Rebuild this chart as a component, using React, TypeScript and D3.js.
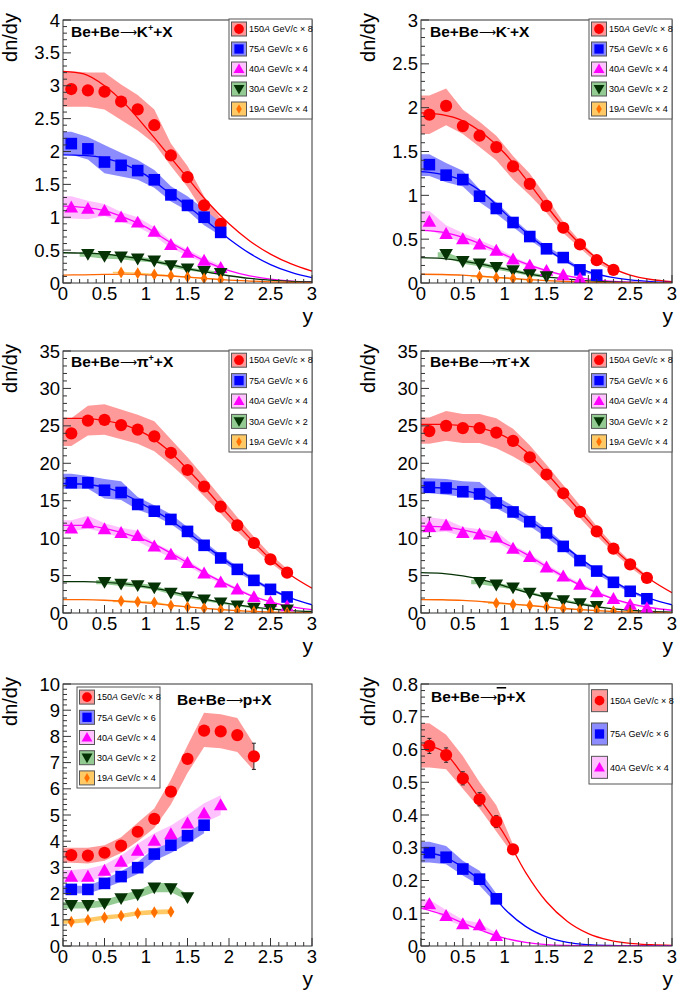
import React from 'react';
import * as d3 from 'd3';

// ---------- shared grids / labels ----------
const fitX = [0, 0.25, 0.5, 0.75, 1, 1.25, 1.5, 1.75, 2, 2.25, 2.5, 2.75, 3];
const energies = ['150', '75', '40', '30', '19'];
const factors = ['8', '6', '4', '2', '4'];

// ---------- Panel 1: K+ ----------
const kpRedX = [0.1, 0.3, 0.5, 0.7, 0.9, 1.1, 1.3, 1.5, 1.7, 1.9];
const kpRedY = [2.95, 2.93, 2.91, 2.76, 2.64, 2.4, 1.94, 1.61, 1.18, 0.9];
const kpRedLo = [2.68, 2.68, 2.64, 2.48, 2.32, 2.12, 1.78, 1.46, 1.06, 0.82];
const kpRedHi = [3.22, 3.2, 3.2, 3.02, 2.86, 2.64, 2.12, 1.78, 1.32, 0.98];
const kpRedFit = [3.22, 3.18, 3.0, 2.72, 2.36, 1.98, 1.6, 1.22, 0.9, 0.64, 0.44, 0.29, 0.18];
const kpBlueX = [0.1, 0.3, 0.5, 0.7, 0.9, 1.1, 1.3, 1.5, 1.7, 1.9];
const kpBlueY = [2.12, 2.04, 1.84, 1.79, 1.71, 1.57, 1.34, 1.18, 1.0, 0.77];
const kpBlueLo = [1.95, 1.88, 1.67, 1.62, 1.57, 1.45, 1.24, 1.1, 0.88, 0.72];
const kpBlueHi = [2.3, 2.22, 2.1, 1.98, 1.87, 1.72, 1.47, 1.32, 1.12, 0.92];
const kpBlueFit = [1.95, 1.94, 1.9, 1.8, 1.64, 1.4, 1.17, 0.92, 0.67, 0.45, 0.28, 0.16, 0.08];
const kpMagX = [0.1, 0.3, 0.5, 0.7, 0.9, 1.1, 1.3, 1.5, 1.7, 1.9];
const kpMagY = [1.15, 1.13, 1.1, 1.0, 0.92, 0.78, 0.58, 0.46, 0.34, 0.23];
const kpMagLo = [0.98, 0.97, 1.02, 0.93, 0.85, 0.72, 0.53, 0.42, 0.3, 0.2];
const kpMagHi = [1.32, 1.25, 1.2, 1.08, 1.0, 0.85, 0.64, 0.51, 0.38, 0.27];
const kpMagFit = [1.17, 1.15, 1.1, 0.99, 0.85, 0.65, 0.47, 0.31, 0.19, 0.11, 0.06, 0.03, 0.015];
const kpGrnX = [0.3, 0.5, 0.7, 0.9, 1.1, 1.3, 1.5, 1.7, 1.9];
const kpGrnY = [0.44, 0.41, 0.4, 0.37, 0.34, 0.27, 0.22, 0.18, 0.15];
const kpGrnLo = [0.4, 0.37, 0.36, 0.33, 0.31, 0.24, 0.19, 0.16, 0.13];
const kpGrnHi = [0.47, 0.45, 0.43, 0.4, 0.37, 0.3, 0.24, 0.2, 0.17];
const kpGrnFit = [0.46, 0.455, 0.44, 0.4, 0.35, 0.29, 0.22, 0.16, 0.11, 0.07, 0.045, 0.025, 0.015];
const kpOrgX = [0.7, 0.9, 1.1, 1.3, 1.5, 1.7, 1.9];
const kpOrgY = [0.16, 0.15, 0.13, 0.11, 0.09, 0.07, 0.05];
const kpOrgLo = [0.15, 0.14, 0.12, 0.1, 0.08, 0.06, 0.04];
const kpOrgHi = [0.17, 0.16, 0.14, 0.12, 0.1, 0.08, 0.06];
const kpOrgFit = [0.12, 0.125, 0.13, 0.135, 0.125, 0.11, 0.09, 0.065, 0.045, 0.03, 0.018, 0.01, 0.005];

// ---------- Panel 2: K- ----------
const kmRedX = [0.1, 0.3, 0.5, 0.7, 0.9, 1.1, 1.3, 1.5, 1.7, 1.9, 2.1, 2.3];
const kmRedY = [1.92, 2.02, 1.79, 1.68, 1.55, 1.33, 1.13, 0.88, 0.63, 0.44, 0.26, 0.15];
const kmRedLo = [1.7, 1.8, 1.7, 1.55, 1.4, 1.18, 1.0, 0.8, 0.57, 0.4, 0.23, 0.13];
const kmRedHi = [2.14, 2.22, 1.98, 1.84, 1.68, 1.45, 1.25, 0.98, 0.7, 0.48, 0.29, 0.17];
const kmRedFit = [1.94, 1.92, 1.85, 1.7, 1.48, 1.19, 0.88, 0.59, 0.36, 0.19, 0.09, 0.04, 0.015];
const kmBlueX = [0.1, 0.3, 0.5, 0.7, 0.9, 1.1, 1.3, 1.5, 1.7, 1.9, 2.1];
const kmBlueY = [1.35, 1.23, 1.18, 0.99, 0.85, 0.69, 0.53, 0.39, 0.29, 0.15, 0.09];
const kmBlueLo = [1.22, 1.15, 1.1, 0.92, 0.79, 0.64, 0.49, 0.36, 0.26, 0.13, 0.08];
const kmBlueHi = [1.47, 1.37, 1.28, 1.07, 0.92, 0.74, 0.57, 0.42, 0.31, 0.17, 0.1];
const kmBlueFit = [1.27, 1.24, 1.17, 1.02, 0.8, 0.58, 0.39, 0.24, 0.13, 0.07, 0.035, 0.016, 0.007];
const kmMagX = [0.1, 0.3, 0.5, 0.7, 0.9, 1.1, 1.3, 1.5, 1.7, 1.9];
const kmMagY = [0.7, 0.56, 0.5, 0.44, 0.37, 0.27, 0.2, 0.14, 0.09, 0.05];
const kmMagLo = [0.6, 0.53, 0.46, 0.41, 0.34, 0.25, 0.18, 0.12, 0.08, 0.04];
const kmMagHi = [0.82, 0.66, 0.57, 0.49, 0.41, 0.3, 0.22, 0.15, 0.1, 0.06];
const kmMagFit = [0.6, 0.58, 0.52, 0.43, 0.32, 0.22, 0.14, 0.08, 0.045, 0.022, 0.01, 0.005, 0.002];
const kmGrnX = [0.3, 0.5, 0.7, 0.9, 1.1, 1.3, 1.5];
const kmGrnY = [0.33, 0.25, 0.22, 0.18, 0.145, 0.1, 0.075];
const kmGrnLo = [0.29, 0.22, 0.19, 0.15, 0.12, 0.08, 0.06];
const kmGrnHi = [0.35, 0.28, 0.24, 0.2, 0.16, 0.12, 0.09];
const kmGrnFit = [0.29, 0.28, 0.25, 0.21, 0.16, 0.11, 0.07, 0.045, 0.025, 0.013, 0.007, 0.003, 0.001];
const kmOrgX = [0.7, 0.9, 1.1, 1.3];
const kmOrgY = [0.075, 0.06, 0.05, 0.03];
const kmOrgLo = [0.065, 0.05, 0.04, 0.025];
const kmOrgHi = [0.085, 0.07, 0.06, 0.035];
const kmOrgFit = [0.1, 0.097, 0.09, 0.075, 0.058, 0.042, 0.028, 0.017, 0.01, 0.005, 0.003, 0.001, 0.0005];

// ---------- Panel 3: pi+ ----------
const ppX14 = [0.1, 0.3, 0.5, 0.7, 0.9, 1.1, 1.3, 1.5, 1.7, 1.9, 2.1, 2.3, 2.5, 2.7];
const ppRedY = [24.0, 25.7, 25.8, 25.1, 24.5, 23.6, 21.4, 19.1, 16.9, 14.2, 11.7, 9.35, 7.17, 5.39];
const ppRedLo = [22.3, 23.7, 23.8, 23.2, 22.6, 21.6, 19.8, 17.8, 15.6, 13.3, 10.9, 8.7, 6.7, 5.0];
const ppRedHi = [26.0, 27.7, 27.9, 27.2, 26.5, 25.6, 23.2, 20.8, 18.2, 15.5, 12.8, 10.2, 7.8, 5.9];
const ppRedFit = [26.0, 26.0, 25.7, 25.1, 23.9, 21.9, 19.2, 16.2, 13.0, 10.0, 7.2, 5.0, 3.3];
const ppBlueY = [17.4, 17.4, 16.4, 16.1, 14.5, 13.6, 12.5, 10.9, 9.04, 7.35, 5.83, 4.36, 3.16, 2.14];
const ppBlueLo = [16.6, 16.6, 15.3, 15.1, 13.8, 13.0, 11.9, 10.3, 8.6, 7.0, 5.5, 4.1, 3.0, 2.0];
const ppBlueHi = [18.6, 18.3, 17.9, 17.6, 15.5, 14.4, 13.2, 11.5, 9.6, 7.8, 6.2, 4.6, 3.4, 2.3];
const ppBlueFit = [17.3, 17.2, 16.8, 15.8, 14.3, 12.7, 10.8, 8.7, 6.7, 4.8, 3.2, 2.0, 1.1];
const ppMagY = [11.3, 12.0, 11.2, 10.7, 10.3, 8.9, 7.8, 6.7, 5.3, 4.1, 3.16, 2.14, 1.47, 0.9];
const ppMagLo = [10.9, 11.3, 10.7, 10.1, 9.6, 8.4, 7.4, 6.3, 5.0, 3.9, 3.0, 2.0, 1.35, 0.8];
const ppMagHi = [12.4, 13.0, 12.0, 11.4, 11.0, 9.4, 8.3, 7.1, 5.6, 4.4, 3.4, 2.3, 1.6, 1.0];
const ppMagFit = [11.7, 11.7, 11.3, 10.6, 9.7, 8.3, 6.7, 5.1, 3.7, 2.4, 1.5, 0.85, 0.45];
const ppGrnX = [0.5, 0.7, 0.9, 1.1, 1.3, 1.5, 1.7, 1.9, 2.1, 2.3, 2.5, 2.7];
const ppGrnY = [4.14, 3.9, 3.7, 3.4, 2.7, 2.2, 1.8, 1.4, 1.0, 0.7, 0.53, 0.45];
const ppGrnLo = [3.85, 3.6, 3.4, 3.1, 2.5, 2.0, 1.6, 1.25, 0.9, 0.6, 0.45, 0.38];
const ppGrnHi = [4.4, 4.2, 4.0, 3.7, 2.95, 2.4, 1.95, 1.55, 1.1, 0.8, 0.6, 0.52];
const ppGrnFit = [4.2, 4.2, 4.1, 3.9, 3.5, 3.0, 2.35, 1.75, 1.25, 0.85, 0.55, 0.33, 0.2];
const ppOrgX = [0.7, 0.9, 1.1, 1.3, 1.5, 1.7, 1.9, 2.1, 2.3, 2.5, 2.7];
const ppOrgY = [1.6, 1.5, 1.4, 1.0, 0.8, 0.62, 0.45, 0.3, 0.2, 0.13, 0.08];
const ppOrgLo = [1.45, 1.38, 1.28, 0.92, 0.73, 0.56, 0.4, 0.26, 0.17, 0.1, 0.06];
const ppOrgHi = [1.75, 1.62, 1.52, 1.1, 0.87, 0.68, 0.5, 0.34, 0.23, 0.16, 0.1];
const ppOrgFit = [1.8, 1.78, 1.7, 1.55, 1.35, 1.08, 0.82, 0.58, 0.38, 0.23, 0.13, 0.07, 0.04];

// ---------- Panel 4: pi- ----------
const pmRedY = [24.3, 25.0, 24.7, 24.7, 24.1, 23.0, 20.8, 18.5, 16.0, 13.5, 10.9, 8.6, 6.5, 4.7];
const pmRedLo = [22.6, 23.0, 22.7, 22.7, 22.0, 20.9, 19.6, 17.4, 15.0, 12.7, 10.3, 8.1, 6.1, 4.4];
const pmRedHi = [26.1, 27.0, 26.6, 26.6, 26.0, 24.6, 22.4, 19.8, 17.1, 14.4, 11.6, 9.1, 6.9, 5.0];
const pmRedFit = [25.2, 25.2, 25.0, 24.6, 23.6, 21.6, 18.7, 15.5, 12.3, 9.2, 6.6, 4.4, 2.7];
const pmBlueY = [16.8, 16.7, 16.2, 15.9, 14.7, 13.5, 12.2, 10.7, 8.9, 7.0, 5.6, 4.1, 2.9, 1.9];
const pmBlueLo = [16.0, 15.8, 15.5, 15.3, 14.0, 12.8, 11.6, 10.1, 8.4, 6.6, 5.2, 3.9, 2.7, 1.8];
const pmBlueHi = [18.0, 17.9, 17.6, 17.5, 15.6, 14.3, 12.9, 11.3, 9.4, 7.4, 5.9, 4.4, 3.1, 2.1];
const pmBlueFit = [16.8, 16.7, 16.4, 15.6, 14.3, 12.7, 10.8, 8.6, 6.5, 4.6, 3.0, 1.9, 1.1];
const pmMagY = [11.5, 11.7, 10.7, 10.5, 10.1, 8.6, 7.5, 6.1, 4.9, 3.8, 2.8, 1.9, 1.1, 0.67];
const pmMagLo = [10.7, 10.9, 10.2, 10.0, 9.6, 8.1, 7.0, 5.8, 4.6, 3.6, 2.6, 1.8, 1.0, 0.6];
const pmMagHi = [12.8, 12.5, 11.5, 11.2, 10.9, 9.1, 7.9, 6.5, 5.2, 4.0, 3.0, 2.0, 1.2, 0.75];
const pmMagErr = [1.3, 0, 0, 0, 0, 0, 0, 0, 0, 0, 0, 0, 0, 0];
const pmMagFit = [11.6, 11.5, 11.1, 10.4, 9.3, 7.9, 6.2, 4.6, 3.2, 2.1, 1.25, 0.7, 0.37];
const pmGrnX = [0.7, 0.9, 1.1, 1.3, 1.5, 1.7, 1.9, 2.1];
const pmGrnY = [4.14, 3.78, 3.4, 2.7, 2.1, 1.7, 1.3, 0.93];
const pmGrnLo = [3.85, 3.5, 3.15, 2.5, 1.95, 1.55, 1.18, 0.83];
const pmGrnHi = [4.45, 4.05, 3.65, 2.9, 2.25, 1.85, 1.42, 1.03];
const pmGrnFit = [5.4, 5.3, 4.95, 4.4, 3.6, 2.8, 2.1, 1.5, 1.0, 0.63, 0.37, 0.2, 0.1];
const pmOrgX = [0.9, 1.1, 1.3, 1.5, 1.7, 1.9, 2.1, 2.3, 2.5];
const pmOrgY = [1.3, 1.15, 1.0, 0.8, 0.6, 0.45, 0.35, 0.25, 0.15];
const pmOrgLo = [1.2, 1.06, 0.92, 0.73, 0.54, 0.4, 0.31, 0.22, 0.12];
const pmOrgHi = [1.4, 1.24, 1.08, 0.87, 0.66, 0.5, 0.39, 0.28, 0.18];
const pmOrgFit = [1.8, 1.77, 1.68, 1.5, 1.28, 1.04, 0.8, 0.57, 0.38, 0.23, 0.13, 0.07, 0.04];

// ---------- Panel 5: protons ----------
const prRedX = [0.1, 0.3, 0.5, 0.7, 0.9, 1.1, 1.3, 1.5, 1.7, 1.9, 2.1, 2.3];
const prRedY = [3.47, 3.45, 3.56, 3.83, 4.36, 4.85, 5.89, 7.14, 8.22, 8.19, 8.05, 7.24];
const prRedLo = [3.18, 3.15, 3.25, 3.55, 4.0, 4.5, 5.4, 6.6, 7.6, 7.55, 7.4, 6.7];
const prRedHi = [3.75, 3.75, 3.85, 4.15, 4.7, 5.25, 6.35, 7.65, 8.9, 8.85, 8.7, 7.7];
const prRedErr = [0, 0, 0, 0, 0, 0, 0, 0, 0, 0, 0, 0.5];
const prBlueX = [0.1, 0.3, 0.5, 0.7, 0.9, 1.1, 1.3, 1.5, 1.7];
const prBlueY = [2.16, 2.16, 2.39, 2.65, 2.99, 3.51, 3.85, 4.21, 4.61];
const prBlueLo = [2.0, 2.0, 2.2, 2.45, 2.75, 3.25, 3.55, 3.9, 4.3];
const prBlueHi = [2.3, 2.3, 2.55, 2.85, 3.2, 3.75, 4.1, 4.45, 4.85];
const prMagX = [0.1, 0.3, 0.5, 0.7, 0.9, 1.1, 1.3, 1.5, 1.7, 1.9];
const prMagY = [2.65, 2.65, 2.88, 3.22, 3.64, 4.02, 4.27, 4.68, 5.06, 5.38];
const prMagLo = [2.45, 2.45, 2.65, 2.95, 3.35, 3.7, 3.95, 4.35, 4.7, 5.0];
const prMagHi = [2.9, 2.95, 3.1, 3.45, 3.9, 4.3, 4.6, 5.0, 5.45, 5.75];
const prGrnX = [0.1, 0.3, 0.5, 0.7, 0.9, 1.1, 1.3, 1.5];
const prGrnY = [1.56, 1.56, 1.63, 1.82, 1.97, 2.23, 2.2, 1.86];
const prGrnLo = [1.43, 1.43, 1.5, 1.68, 1.82, 2.05, 2.05, 1.75];
const prGrnHi = [1.68, 1.68, 1.76, 1.96, 2.12, 2.4, 2.4, 1.97];
const prOrgX = [0.1, 0.3, 0.5, 0.7, 0.9, 1.1, 1.3];
const prOrgY = [0.93, 0.99, 1.09, 1.15, 1.25, 1.29, 1.31];
const prOrgLo = [0.85, 0.91, 1.0, 1.07, 1.16, 1.2, 1.22];
const prOrgHi = [1.01, 1.07, 1.17, 1.23, 1.34, 1.38, 1.4];

// ---------- Panel 6: antiprotons ----------
const pbRedX = [0.1, 0.3, 0.5, 0.7, 0.9, 1.1];
const pbRedY = [0.611, 0.583, 0.512, 0.448, 0.38, 0.295];
const pbRedLo = [0.545, 0.54, 0.48, 0.42, 0.35, 0.28];
const pbRedHi = [0.68, 0.645, 0.58, 0.5, 0.43, 0.31];
const pbRedErr = [0.023, 0.022, 0.02, 0.02, 0.018, 0.015];
const pbRedFit = [0.614, 0.597, 0.522, 0.432, 0.339, 0.225, 0.135, 0.075, 0.038, 0.018, 0.008, 0.004, 0.002];
const pbBlueX = [0.1, 0.3, 0.5, 0.7, 0.9];
const pbBlueY = [0.285, 0.271, 0.235, 0.204, 0.144];
const pbBlueLo = [0.255, 0.25, 0.215, 0.185, 0.13];
const pbBlueHi = [0.318, 0.305, 0.26, 0.23, 0.16];
const pbBlueFit = [0.287, 0.275, 0.24, 0.19, 0.113, 0.06, 0.028, 0.011, 0.004, 0.0015, 0.0005, 0.0002, 0];
const pbMagX = [0.1, 0.3, 0.5, 0.7, 0.9];
const pbMagY = [0.128, 0.092, 0.067, 0.064, 0.031];
const pbMagLo = [0.115, 0.08, 0.06, 0.052, 0.025];
const pbMagHi = [0.142, 0.11, 0.08, 0.07, 0.04];
const pbMagFit = [0.116, 0.097, 0.07, 0.045, 0.024, 0.011, 0.004, 0.0015, 0.0005, 0.0002, 0.0001, 0, 0];

// ---------- styles ----------
const MARKER_COLORS = ['#ff0000', '#0000ff', '#ff00ff', '#063306', '#ff7000'];
const LINE_COLORS = ['#ff0000', '#0000ff', '#ff00ff', '#063306', '#ff6600'];
const BAND_COLORS = ['#ff9a9a', '#8c8cff', '#ffc2ff', '#93cb93', '#ffca66'];
const SHAPES = ['circle', 'square', 'tup', 'tdown', 'diamond'];
const FONT = 'Liberation Sans, Arial, Helvetica, sans-serif';

type Series = { idx: number; x: number[]; y: number[]; lo: number[]; hi: number[]; fit?: number[]; err?: number[] };
type Panel = {
  fx0: number; fx1: number; fy0: number; fy1: number;
  yMax: number; yMajor: number; yMinor: number;
  title: { x: number; y: number; particle: string; charge: string; bar: boolean };
  legend: { x: number; y: number; w: number; h: number; tall: boolean };
  series: Series[];
};

const s = (idx: number, x: number[], y: number[], lo: number[], hi: number[], fit?: number[], err?: number[]): Series => ({ idx, x, y, lo, hi, fit, err });

const PANELS: Panel[] = [
  {
    fx0: 63, fx1: 312, fy0: 20, fy1: 283, yMax: 4, yMajor: 0.5, yMinor: 0.1,
    title: { x: 71, y: 37, particle: 'K', charge: '+', bar: false },
    legend: { x: 229, y: 19, w: 83, h: 100, tall: false },
    series: [
      s(0, kpRedX, kpRedY, kpRedLo, kpRedHi, kpRedFit),
      s(1, kpBlueX, kpBlueY, kpBlueLo, kpBlueHi, kpBlueFit),
      s(2, kpMagX, kpMagY, kpMagLo, kpMagHi, kpMagFit),
      s(3, kpGrnX, kpGrnY, kpGrnLo, kpGrnHi, kpGrnFit),
      s(4, kpOrgX, kpOrgY, kpOrgLo, kpOrgHi, kpOrgFit),
    ],
  },
  {
    fx0: 421, fx1: 672, fy0: 20, fy1: 283, yMax: 3, yMajor: 0.5, yMinor: 0.1,
    title: { x: 430, y: 37, particle: 'K', charge: '-', bar: false },
    legend: { x: 589, y: 19, w: 83, h: 100, tall: false },
    series: [
      s(0, kmRedX, kmRedY, kmRedLo, kmRedHi, kmRedFit),
      s(1, kmBlueX, kmBlueY, kmBlueLo, kmBlueHi, kmBlueFit),
      s(2, kmMagX, kmMagY, kmMagLo, kmMagHi, kmMagFit),
      s(3, kmGrnX, kmGrnY, kmGrnLo, kmGrnHi, kmGrnFit),
      s(4, kmOrgX, kmOrgY, kmOrgLo, kmOrgHi, kmOrgFit),
    ],
  },
  {
    fx0: 63, fx1: 312, fy0: 351, fy1: 613, yMax: 35, yMajor: 5, yMinor: 1,
    title: { x: 71, y: 367, particle: 'π', charge: '+', bar: false },
    legend: { x: 229, y: 350, w: 83, h: 102, tall: false },
    series: [
      s(0, ppX14, ppRedY, ppRedLo, ppRedHi, ppRedFit),
      s(1, ppX14, ppBlueY, ppBlueLo, ppBlueHi, ppBlueFit),
      s(2, ppX14, ppMagY, ppMagLo, ppMagHi, ppMagFit),
      s(3, ppGrnX, ppGrnY, ppGrnLo, ppGrnHi, ppGrnFit),
      s(4, ppOrgX, ppOrgY, ppOrgLo, ppOrgHi, ppOrgFit),
    ],
  },
  {
    fx0: 421, fx1: 672, fy0: 351, fy1: 613, yMax: 35, yMajor: 5, yMinor: 1,
    title: { x: 430, y: 367, particle: 'π', charge: '-', bar: false },
    legend: { x: 589, y: 350, w: 83, h: 102, tall: false },
    series: [
      s(0, ppX14, pmRedY, pmRedLo, pmRedHi, pmRedFit),
      s(1, ppX14, pmBlueY, pmBlueLo, pmBlueHi, pmBlueFit),
      s(2, ppX14, pmMagY, pmMagLo, pmMagHi, pmMagFit, pmMagErr),
      s(3, pmGrnX, pmGrnY, pmGrnLo, pmGrnHi, pmGrnFit),
      s(4, pmOrgX, pmOrgY, pmOrgLo, pmOrgHi, pmOrgFit),
    ],
  },
  {
    fx0: 63, fx1: 312, fy0: 684, fy1: 946, yMax: 10, yMajor: 1, yMinor: 0.2,
    title: { x: 177, y: 705, particle: 'p', charge: '', bar: false },
    legend: { x: 77, y: 687, w: 83, h: 101, tall: false },
    series: [
      s(0, prRedX, prRedY, prRedLo, prRedHi, undefined, prRedErr),
      s(1, prBlueX, prBlueY, prBlueLo, prBlueHi),
      s(2, prMagX, prMagY, prMagLo, prMagHi),
      s(3, prGrnX, prGrnY, prGrnLo, prGrnHi),
      s(4, prOrgX, prOrgY, prOrgLo, prOrgHi),
    ],
  },
  {
    fx0: 421, fx1: 672, fy0: 684, fy1: 946, yMax: 0.8, yMajor: 0.1, yMinor: 0.02,
    title: { x: 431, y: 702, particle: 'p', charge: '', bar: true },
    legend: { x: 589, y: 684, w: 83, h: 100, tall: true },
    series: [
      s(0, pbRedX, pbRedY, pbRedLo, pbRedHi, pbRedFit, pbRedErr),
      s(1, pbBlueX, pbBlueY, pbBlueLo, pbBlueHi, pbBlueFit),
      s(2, pbMagX, pbMagY, pbMagLo, pbMagHi, pbMagFit),
    ],
  },
];

function Marker({ shape, cx, cy, k, color }: { shape: string; cx: number; cy: number; k: number; color: string }) {
  if (shape === 'circle') return <circle cx={cx} cy={cy} r={6.1 * k} fill={color} />;
  if (shape === 'square') { const h = 5.8 * k; return <rect x={cx - h} y={cy - h} width={2 * h} height={2 * h} fill={color} />; }
  if (shape === 'tup') { const h = 6.8 * k; return <polygon points={`${cx},${cy - h} ${cx - h},${cy + h * 0.75} ${cx + h},${cy + h * 0.75}`} fill={color} />; }
  if (shape === 'tdown') { const h = 6.8 * k; return <polygon points={`${cx},${cy + h} ${cx - h},${cy - h * 0.75} ${cx + h},${cy - h * 0.75}`} fill={color} />; }
  const w = 3.5 * k, h = 6 * k;
  return <polygon points={`${cx},${cy - h} ${cx + w},${cy} ${cx},${cy + h} ${cx - w},${cy}`} fill={color} />;
}

const fmt = (v: number) => String(+v.toFixed(3));

function PanelView({ p, pi }: { p: Panel; pi: number }) {
  const xs = d3.scaleLinear().domain([0, 3]).range([p.fx0, p.fx1]);
  const ys = d3.scaleLinear().domain([0, p.yMax]).range([p.fy1, p.fy0]);
  const clipId = `clip${pi}`;
  const xMinor = d3.range(0, 3.0001, 0.1);
  const xMajor = d3.range(0, 3.0001, 0.5);
  const yMinor = d3.range(0, p.yMax + p.yMinor / 100, p.yMinor);
  const yMajor = d3.range(0, p.yMax + p.yMajor / 100, p.yMajor);
  const fitLine = d3.line<number>().x((_, i) => xs(fitX[i])).y((v) => ys(v)).curve(d3.curveMonotoneX);
  const bandArea = (ser: Series) => {
    const xv = [ser.x[0] - 0.1, ...ser.x];
    const lo = [ser.lo[0], ...ser.lo];
    const hi = [ser.hi[0], ...ser.hi];
    return d3.area<number>().x((v) => xs(v)).y0((_, i) => ys(lo[i])).y1((_, i) => ys(hi[i]))(xv) || '';
  };
  const axisCol = '#333';
  const lg = p.legend;
  const nEntries = p.series.length;
  const rowH = lg.h / nEntries;
  return (
    <g>
      <defs>
        <clipPath id={clipId}>
          <rect x={p.fx0} y={p.fy0} width={p.fx1 - p.fx0} height={p.fy1 - p.fy0} />
        </clipPath>
      </defs>
      <rect x={p.fx0} y={p.fy0} width={p.fx1 - p.fx0} height={p.fy1 - p.fy0} fill="#fff" />
      <g clipPath={`url(#${clipId})`}>
        {p.series.map((ser) => (
          <path key={`b${ser.idx}`} d={bandArea(ser)} fill={BAND_COLORS[ser.idx]} stroke="none" />
        ))}
        {p.series.map((ser) => ser.fit ? (
          <path key={`f${ser.idx}`} d={fitLine(ser.fit) || ''} fill="none" stroke={LINE_COLORS[ser.idx]} strokeWidth={1.3} />
        ) : null)}
        {p.series.map((ser) => (
          <g key={`m${ser.idx}`}>
            {ser.y.map((v, i) => {
              const e = ser.err ? ser.err[i] : 0;
              return (
                <g key={i}>
                  {e > 0 && (
                    <g stroke="#222" strokeWidth={1}>
                      <line x1={xs(ser.x[i])} x2={xs(ser.x[i])} y1={ys(v - e)} y2={ys(v + e)} />
                      <line x1={xs(ser.x[i]) - 2} x2={xs(ser.x[i]) + 2} y1={ys(v - e)} y2={ys(v - e)} />
                      <line x1={xs(ser.x[i]) - 2} x2={xs(ser.x[i]) + 2} y1={ys(v + e)} y2={ys(v + e)} />
                    </g>
                  )}
                  <Marker shape={SHAPES[ser.idx]} cx={xs(ser.x[i])} cy={ys(v)} k={1} color={MARKER_COLORS[ser.idx]} />
                </g>
              );
            })}
          </g>
        ))}
      </g>
      {/* frame */}
      <rect x={p.fx0} y={p.fy0} width={p.fx1 - p.fx0} height={p.fy1 - p.fy0} fill="none" stroke={axisCol} strokeWidth={1} />
      {/* x ticks */}
      {xMinor.map((v, i) => (
        <line key={`xm${i}`} x1={xs(v)} x2={xs(v)} y1={p.fy1} y2={p.fy1 - (i % 5 === 0 ? 8 : 4)} stroke={axisCol} strokeWidth={1} />
      ))}
      {xMajor.map((v, i) => (
        <text key={`xl${i}`} x={xs(v)} y={p.fy1 + 17} fontSize={18.5} textAnchor="middle" fontFamily={FONT} fill="#000">{fmt(v)}</text>
      ))}
      {/* y ticks */}
      {yMinor.map((v, i) => {
        const isMaj = Math.abs(v / p.yMajor - Math.round(v / p.yMajor)) < 1e-6;
        return <line key={`ym${i}`} x1={p.fx0} x2={p.fx0 + (isMaj ? 8 : 4)} y1={ys(v)} y2={ys(v)} stroke={axisCol} strokeWidth={1} />;
      })}
      {yMajor.map((v, i) => (
        <text key={`yl${i}`} x={p.fx0 - 3} y={ys(v) + 6.5} fontSize={18.5} textAnchor="end" fontFamily={FONT} fill="#000">{fmt(v)}</text>
      ))}
      {/* axis titles */}
      <text transform={`translate(${p.fx0 - 46},${p.fy0 - 7}) rotate(-90)`} fontSize={20} textAnchor="end" fontFamily={FONT} fill="#000">dn/dy</text>
      <text x={p.fx1 + 1} y={p.fy1 + 40} fontSize={21} textAnchor="end" fontFamily={FONT} fill="#000">y</text>
      {/* title */}
      <text x={p.title.x} y={p.title.y} fontSize={15.5} fontWeight="bold" fontFamily={FONT} fill="#000">
        <tspan>Be+Be</tspan>
        <tspan fontWeight="normal" fontSize={12} dy={-1}>⟶</tspan>
        <tspan dy={1} style={p.title.bar ? { textDecoration: 'overline' } : undefined}>{p.title.particle}</tspan>
        {p.title.charge ? <tspan fontSize={9} dy={-6}>{p.title.charge}</tspan> : null}
        <tspan dy={p.title.charge ? 6 : 0}>+X</tspan>
      </text>
      {/* legend */}
      <rect x={lg.x} y={lg.y} width={lg.w} height={lg.h} fill="#fff" stroke="#555" strokeWidth={1} />
      {p.series.map((ser, i) => {
        const cy = lg.y + rowH * (i + 0.5);
        const iw = lg.tall ? 16 : 15;
        const ih = lg.tall ? 22 : 14;
        return (
          <g key={`lg${i}`}>
            <rect x={lg.x + 2.5} y={cy - ih / 2} width={iw} height={ih} fill={BAND_COLORS[ser.idx]} stroke="#555" strokeWidth={1} />
            <Marker shape={SHAPES[ser.idx]} cx={lg.x + 2.5 + iw / 2} cy={cy} k={0.8} color={MARKER_COLORS[ser.idx]} />
            <text x={lg.x + (lg.tall ? 21 : 20)} y={cy + 3.2} fontSize={9} fontFamily={FONT} fill="#000">
              {energies[ser.idx]}<tspan fontStyle="italic">A</tspan> GeV/c × {factors[ser.idx]}
            </text>
          </g>
        );
      })}
    </g>
  );
}

export default function App() {
  return (
    <div style={{ position: 'absolute', left: 0, top: 0, width: 685, height: 996, background: '#fff' }}>
      <svg width={685} height={996} viewBox="0 0 685 996" style={{ display: 'block' }}>
        <rect x={0} y={0} width={685} height={996} fill="#fff" />
        {PANELS.map((p, i) => <PanelView key={i} p={p} pi={i} />)}
      </svg>
    </div>
  );
}
